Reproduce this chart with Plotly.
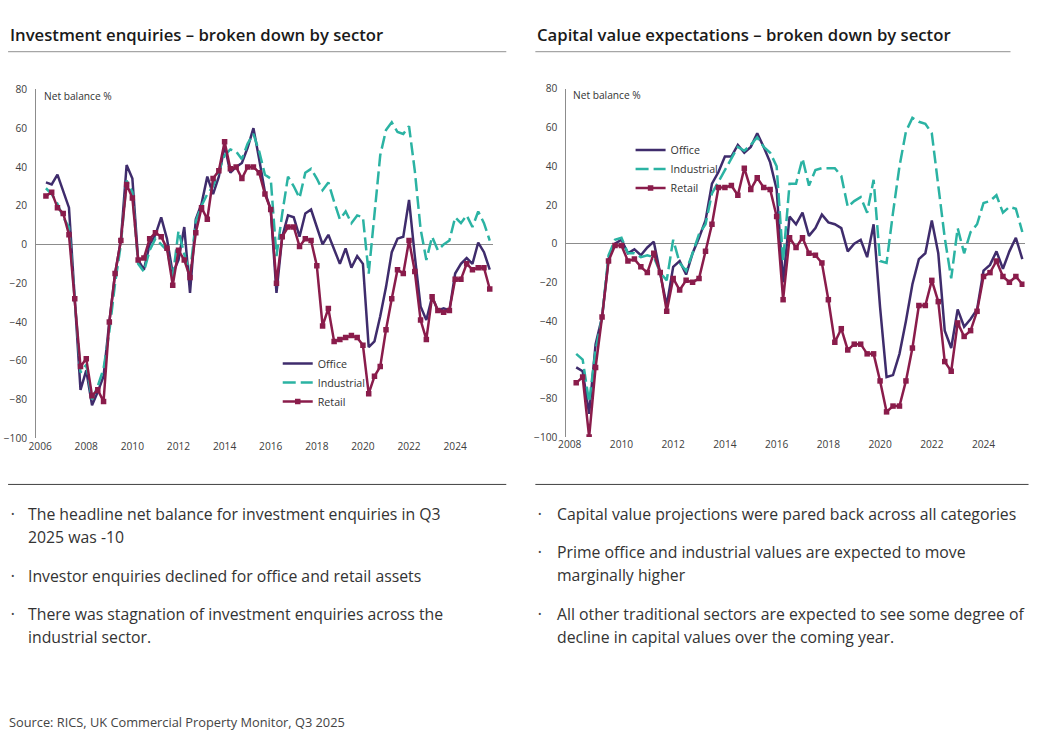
import plotly.graph_objects as go
import pandas as pd

# Layout coordinates below are given in reference-picture pixels and mapped onto the figure
SX, SY, OFF = 0.99, 0.979, 8.0
W = int(round(1048 / SX - OFF))
H = int(round(753 / SY - OFF))

# ---------------- Data ----------------
# Investment enquiries, quarterly, 2006Q2 - 2025Q3 (net balance %)
inv_start, inv_end = "2006Q2", "2025Q3"
inv_office = [32, 31, 36, 28, 19, -28, -75, -65, -83, -76, -68, -40, -15, 2, 41, 34, -8, -13, 0, 5,
              14, 3, -15, -8, 9, -25, 13, 21, 35, 26, 35, 51, 37, 40, 42, 50, 60, 44, 27, 18,
              -25, 4, 15, 14, 4, 16, 18, 9, 0, 5, -3, -10, -2, -12, -6, -10, -53, -50, -37, -22,
              -4, 3, 4, 23, -6, -32, -39, -27, -34, -33, -34, -15, -10, -7, -10, 1, -4, -13]
inv_industrial = [29, 26, 21, 14, 9, -27, -66, -62, -80, -73, -64, -45, -20, 0, 33, 27, -10, -14, -3, 3,
                  0, -3, -17, 7, -5, -15, 12, 20, 26, 30, 38, 46, 49, 48, 44, 52, 57, 48, 36, 34,
                  -6, 16, 35, 30, 24, 37, 39, 34, 28, 32, 22, 13, 17, 11, 15, 14, -15, 15, 46, 59,
                  63, 58, 57, 61, 38, 8, -8, 4, -3, 0, 2, 14, 11, 15, 9, 17, 11, 2]
inv_retail = [25, 27, 19, 16, 5, -28, -63, -59, -78, -75, -81, -40, -15, 2, 31, 24, -8, -7, 3, 6,
              4, -2, -21, -3, -8, -17, 6, 19, 13, 34, 38, 53, 39, 40, 34, 40, 40, 37, 26, 18,
              -20, 4, 9, 9, -1, 3, 2, -11, -42, -33, -50, -49, -48, -47, -48, -52, -77, -68, -63, -44,
              -28, -13, -15, 2, -14, -39, -49, -27, -34, -35, -34, -18, -18, -10, -13, -12, -12, -23]

# Capital value expectations, quarterly, 2008Q2 - 2025Q3 (net balance %)
cap_start, cap_end = "2008Q2", "2025Q3"
cap_office = [-64, -66, -88, -52, -38, -8, 0, 2, -5, -3, -6, -2, 1, -16, -32, -12, -9, -16, -5, 3,
              12, 31, 37, 45, 45, 51, 47, 50, 57, 50, 42, 28, -20, 14, 10, 16, 4, 8, 15, 11,
              10, 8, -4, 0, 2, -7, 10, -33, -69, -68, -57, -40, -21, -8, -5, 12, -5, -45, -54, -34,
              -43, -39, -34, -14, -11, -4, -13, -4, 3, -8]
cap_industrial = [-57, -60, -82, -55, -38, -6, 2, 3, -5, -5, -7, -6, -7, -15, -19, 2, -10, -14, -5, 5,
                  10, 26, 32, 38, 44, 50, 48, 51, 55, 50, 47, 40, -9, 31, 31, 44, 30, 38, 39, 39,
                  39, 35, 19, 22, 24, 16, 33, -9, -10, 16, 40, 58, 65, 63, 62, 57, 30, 3, -18, 8,
                  -5, 6, 10, 21, 22, 25, 16, 19, 18, 6]
cap_retail = [-72, -69, -100, -64, -38, -9, -1, -1, -9, -8, -12, -15, -5, -15, -35, -18, -24, -19, -20, -18,
              -4, 10, 29, 29, 30, 25, 39, 28, 34, 29, 28, 14, -29, 3, -2, 3, -5, -6, -10, -29,
              -51, -44, -55, -52, -52, -57, -57, -71, -87, -84, -84, -71, -54, -32, -32, -19, -30, -61, -66, -41,
              -48, -45, -35, -17, -15, -9, -17, -20, -17, -21]

series_names = ["Office", "Industrial", "Retail"]
y_ticks = [-100, -80, -60, -40, -20, 0, 20, 40, 60, 80]
inv_year_ticks = [2006, 2008, 2010, 2012, 2014, 2016, 2018, 2020, 2022, 2024]
cap_year_ticks = [2008, 2010, 2012, 2014, 2016, 2018, 2020, 2022, 2024]

titles = ["Investment enquiries \u2013 broken down by sector",
          "Capital value expectations \u2013 broken down by sector"]
left_bullets = [["The headline net balance for investment enquiries in Q3", "2025 was -10"],
                ["Investor enquiries declined for office and retail assets"],
                ["There was stagnation of investment enquiries across the", "industrial sector."]]
right_bullets = [["Capital value projections were pared back across all categories"],
                 ["Prime office and industrial values are expected to move", "marginally higher"],
                 ["All other traditional sectors are expected to see some degree of",
                  "decline in capital values over the coming year."]]
source_text = "Source: RICS, UK Commercial Property Monitor, Q3 2025"

# ---------------- Styling ----------------
C_OFFICE = "#3f2c6c"
C_IND = "#2bb3a3"
C_RETAIL = "#8a1c4b"
FONT = "Open Sans"
TXT = "#333333"


def qx(start, end):
    ps = pd.period_range(start, end, freq="Q")
    return [p.year + (p.quarter - 1) / 4 for p in ps]


def px(x):
    return (x / SX - OFF) / W


def py(y):
    return 1 - (y / SY - OFF) / H


inv_x = qx(inv_start, inv_end)
cap_x = qx(cap_start, cap_end)

fig = go.Figure()


def add_series(x, vals, xa, ya, leg):
    office, industrial, retail = vals
    fig.add_trace(go.Scatter(x=x, y=office, name=series_names[0], mode="lines",
                             line=dict(color=C_OFFICE, width=2.5), xaxis=xa, yaxis=ya, legend=leg))
    fig.add_trace(go.Scatter(x=x, y=industrial, name=series_names[1], mode="lines",
                             line=dict(color=C_IND, width=2.5, dash="13px,5px"),
                             xaxis=xa, yaxis=ya, legend=leg))
    fig.add_trace(go.Scatter(x=x, y=retail, name=series_names[2], mode="lines+markers",
                             line=dict(color=C_RETAIL, width=2.5),
                             marker=dict(symbol="square", size=5.5, color=C_RETAIL),
                             xaxis=xa, yaxis=ya, legend=leg))


add_series(inv_x, (inv_office, inv_industrial, inv_retail), "x", "y", "legend")
add_series(cap_x, (cap_office, cap_industrial, cap_retail), "x2", "y2", "legend2")

tickfont = dict(family=FONT, size=10.2, color="#404040")
xcommon = dict(showgrid=False, zeroline=False, showline=False, ticks="", tickfont=tickfont,
               fixedrange=True)
ycommon = dict(showgrid=False, zeroline=True, zerolinecolor="#8c8c8c", zerolinewidth=1,
               showline=True, linecolor="#8c8c8c", linewidth=1, ticks="",
               tickvals=y_ticks, range=[-100, 80], tickfont=tickfont, ticklabelstandoff=6,
               fixedrange=True)

fig.update_layout(
    width=W, height=H, margin=dict(l=0, r=0, t=0, b=0),
    paper_bgcolor="white", plot_bgcolor="white",
    font=dict(family=FONT, color=TXT),
    xaxis=dict(domain=[px(36), px(492)], range=[2005.826, 2025.652], tickvals=inv_year_ticks, **xcommon),
    yaxis=dict(domain=[py(438), py(90)], anchor="x", **ycommon),
    xaxis2=dict(domain=[px(565), px(1022)], range=[2007.872, 2025.585], tickvals=cap_year_ticks,
                anchor="y2", **xcommon),
    yaxis2=dict(domain=[py(436.7), py(89.5)], anchor="x2", **ycommon),
    legend=dict(x=px(277), y=py(349), xanchor="left", yanchor="top", bgcolor="rgba(0,0,0,0)",
                font=dict(family=FONT, size=10.7, color=TXT), tracegroupgap=0),
    legend2=dict(x=px(629), y=py(136), xanchor="left", yanchor="top", bgcolor="rgba(0,0,0,0)",
                 font=dict(family=FONT, size=10.7, color=TXT), tracegroupgap=0),
    showlegend=True,
)

ann = []
# axis captions
for xp, yp in [(42, 97), (570, 96)]:
    ann.append(dict(text="Net balance %", x=px(xp), y=py(yp), xref="paper", yref="paper",
                    xanchor="left", yanchor="middle", showarrow=False,
                    font=dict(family=FONT, size=10.2, color="#333333")))
# titles
for t, xp in zip(titles, [8, 534]):
    ann.append(dict(text=t, x=px(xp), y=py(35), xref="paper", yref="paper",
                    xanchor="left", yanchor="middle", showarrow=False,
                    font=dict(family=FONT, size=16.7, color="#1a1a1a", weight=600)))


def add_bullets(bullets, xdot, xtext, ys):
    i = 0
    for b in bullets:
        ann.append(dict(text="\u2022", x=px(xdot), y=py(ys[i]), xref="paper", yref="paper",
                        xanchor="center", yanchor="middle", showarrow=False,
                        font=dict(family=FONT, size=9.5, color="#444444")))
        for line in b:
            ann.append(dict(text=line, x=px(xtext), y=py(ys[i]), xref="paper", yref="paper",
                            xanchor="left", yanchor="middle", showarrow=False,
                            font=dict(family=FONT, size=15.8, color=TXT)))
            i += 1


add_bullets(left_bullets, 13, 26, [513, 536, 575, 613, 636])
add_bullets(right_bullets, 539, 554, [513, 551, 574, 613, 636])

ann.append(dict(text=source_text, x=px(7), y=py(721), xref="paper", yref="paper",
                xanchor="left", yanchor="middle", showarrow=False,
                font=dict(family=FONT, size=12.8, color="#444444")))
fig.update_layout(annotations=ann)

shapes = []
for x0, x1 in [(8, 505), (534, 1008)]:
    shapes.append(dict(type="line", xref="paper", yref="paper", x0=px(x0), x1=px(x1),
                       y0=py(52.3), y1=py(52.3), line=dict(color="#a6a6a6", width=1.2)))
for x0, x1 in [(8, 505), (534, 1026)]:
    shapes.append(dict(type="line", xref="paper", yref="paper", x0=px(x0), x1=px(x1),
                       y0=py(484), y1=py(484), line=dict(color="#404040", width=1)))
fig.update_layout(shapes=shapes)

fig.write_html("out.html", config={"displayModeBar": False},
               post_script="document.body.style.margin='0px';document.body.style.overflow='hidden';")
